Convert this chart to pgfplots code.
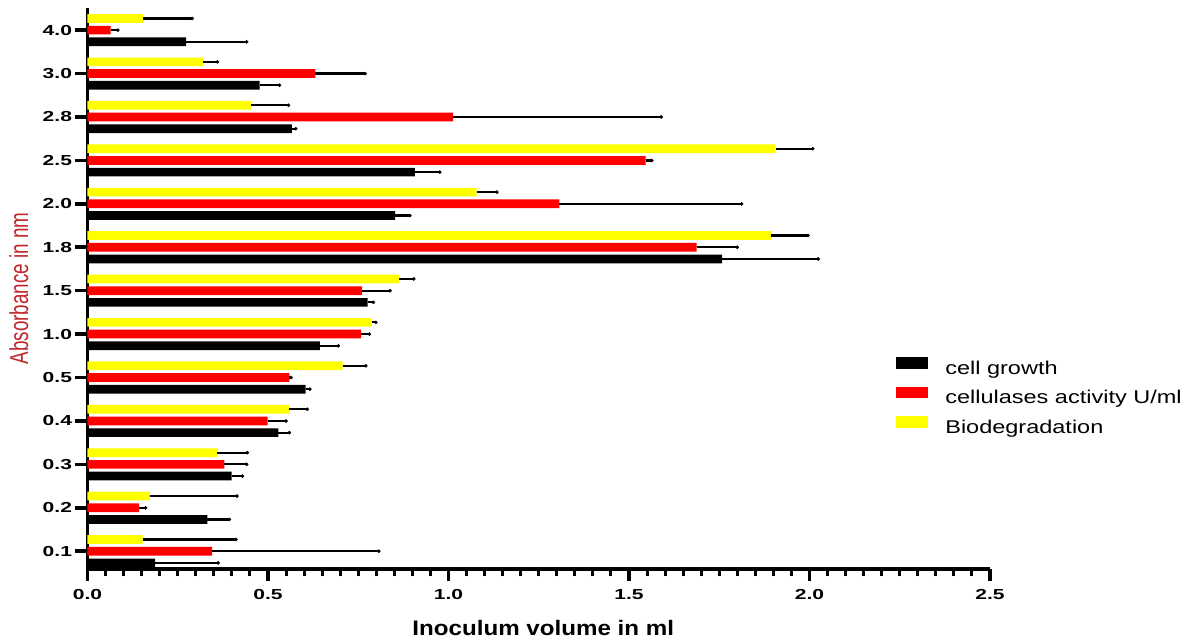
\documentclass[border=0pt]{standalone}
\usepackage{fontspec}
\usepackage{pgfplots}
\usepackage{pgfplotstable}
\pgfplotsset{compat=1.18}
\setmainfont{Liberation Sans}
\newfontfamily\tickfont[FakeStretch=1.45]{Liberation Sans}
\newfontfamily\legfont[FakeStretch=1.27]{Liberation Sans}
\newfontfamily\xlabfont[FakeStretch=1.15]{Liberation Sans}
\newfontfamily\ylabfont[FakeStretch=0.725]{Liberation Sans}
\definecolor{ylabred}{RGB}{192,39,45}
\definecolor{barred}{RGB}{255,0,0}
\definecolor{baryel}{RGB}{255,255,0}

\pgfplotstableread{
y  blk    blkerr  red    rederr  yel    yelerr
0  0.187  0.175   0.345  0.462   0.153  0.258
1  0.332  0.061   0.143  0.018   0.173  0.241
2  0.399  0.030   0.379  0.062   0.360  0.083
3  0.529  0.030   0.499  0.051   0.559  0.050
4  0.604  0.012   0.559  0.005   0.707  0.064
5  0.644  0.051   0.758  0.023   0.787  0.012
6  0.776  0.016   0.761  0.077   0.864  0.040
7  1.758  0.266   1.687  0.113   1.893  0.103
8  0.852  0.041   1.307  0.505   1.078  0.056
9  0.907  0.069   1.546  0.017   1.906  0.103
10 0.566  0.011   1.013  0.576   0.453  0.104
11 0.477  0.055   0.631  0.138   0.321  0.039
12 0.273  0.168   0.064  0.020   0.155  0.135
}\datatable

\pgfplotsset{
  mylegend/.style={legend image code/.code={\fill[##1] (0pt,0.9pt) rectangle (32pt,12.6pt);}},
  myerr/.style={error bars/.cd, x dir=plus, x explicit,
     error bar style={line width=2.2pt, black},
     error mark=*, error mark options={black, mark size=1.6pt}},
}

\begin{document}
\begin{tikzpicture}
\useasboundingbox (-87.5pt,-71pt) rectangle (1105.5pt,569pt);
\begin{axis}[
  at={(0pt,0pt)}, anchor=south west,
  scale only axis, width=902.5pt, height=561pt,
  xmin=0, xmax=2.5, ymin=-0.41, ymax=12.51,
  axis x line*=bottom, axis y line*=left,
  xtick={0,0.5,1,1.5,2,2.5}, minor x tick num=9,
  ytick={0,1,2,3,4,5,6,7,8,9,10,11,12},
  yticklabels={0.1,0.2,0.3,0.4,0.5,1.0,1.5,1.8,2.0,2.5,2.8,3.0,4.0},
  tick align=outside, major tick length=12pt, minor tick length=7pt,
  every tick/.style={black},
  major tick style={line width=3.6pt, black},
  minor tick style={line width=3pt, black},
  axis line style={line width=3.8pt, black},
  /pgf/number format/assume math mode=true,
  x tick label style={/pgf/number format/fixed, /pgf/number format/fixed zerofill, /pgf/number format/precision=1,
     font=\tickfont\bfseries\fontsize{14.5}{14.5}\selectfont},
  xticklabel shift=5pt,
  y tick label style={font=\tickfont\bfseries\fontsize{14.5}{14.5}\selectfont},
  xlabel={Inoculum volume in ml},
  xlabel style={at={(axis description cs:0.5,0)}, anchor=base, yshift=-66pt, xshift=4.5pt,
     font=\xlabfont\bfseries\fontsize{21}{21}\selectfont},
  ylabel={Absorbance in nm},
  ylabel style={at={(axis description cs:-0.0659,0.5)}, anchor=base, text=ylabred,
     font=\ylabfont\fontsize{26}{26}\selectfont},
  xbar, bar width=8.7pt,
  legend style={at={(0.896,0.306)}, anchor=west, draw=none, fill=none, inner sep=0pt,
     row sep=8.5pt, column sep=17pt,
     nodes={inner sep=0pt, text height=13pt, text depth=4pt},
     font=\legfont\fontsize{18.5}{18.5}\selectfont},
  legend cell align=left,
]
\addplot[xbar, fill=black, draw=none, bar shift=-11.7pt, mylegend, myerr]
  table[x=blk, y=y, x error=blkerr] {\datatable};
\addlegendentry{cell growth}
\addplot[xbar, fill=barred, draw=none, bar shift=0pt, mylegend, myerr]
  table[x=red, y=y, x error=rederr] {\datatable};
\addlegendentry{cellulases activity U/ml}
\addplot[xbar, fill=baryel, draw=none, bar shift=11.7pt, mylegend, myerr]
  table[x=yel, y=y, x error=yelerr] {\datatable};
\addlegendentry{Biodegradation}
\end{axis}
\end{tikzpicture}
\end{document}
